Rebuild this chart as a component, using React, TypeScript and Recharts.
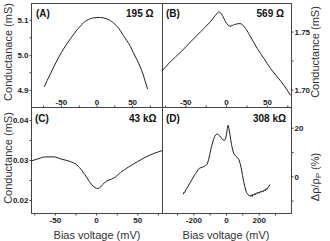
import React from 'react';
import { LineChart, Line, XAxis, YAxis, ReferenceArea } from 'recharts';

// (A) 195 ohm junction
const aBias = [-74, -70, -65, -60, -56, -50, -47, -42, -37, -32, -28, -23, -19, -14, -9, -5, 0, 5, 9, 14, 19, 24, 28, 33, 37, 42, 47, 51, 56, 61, 65, 68, 71];
const aCond = [4.91, 4.928, 4.949, 4.97, 4.986, 5.008, 5.018, 5.034, 5.048, 5.062, 5.073, 5.084, 5.093, 5.1, 5.105, 5.107, 5.108, 5.108, 5.107, 5.104, 5.099, 5.091, 5.083, 5.07, 5.057, 5.042, 5.025, 5.008, 4.988, 4.966, 4.944, 4.924, 4.904];

// (B) 569 ohm junction
const bBias = [-79, -69, -56, -44, -32, -20, -13.5, -9.4, -5.3, -1.2, 4.1, 9.8, 16.3, 23.3, 29.4, 37.6, 45.8, 53.9, 62.1, 70.2, 78.4];
const bCond = [1.7165, 1.7243, 1.7329, 1.7416, 1.7502, 1.7588, 1.7645, 1.7674, 1.7645, 1.7588, 1.755, 1.7565, 1.7573, 1.753, 1.7459, 1.7358, 1.7272, 1.7185, 1.7114, 1.7041, 1.6955];

// (C) 43 kohm junction
const cBias = [-79, -70, -62, -52, -42, -32, -24, -17.5, -11.4, -6.5, -2, 1.6, 4.9, 9.8, 15, 21, 29, 39, 50, 60, 70, 80];
const cCond = [0.0299, 0.0305, 0.0309, 0.0309, 0.0303, 0.02975, 0.0289, 0.0274, 0.0256, 0.0241, 0.02325, 0.023, 0.0234, 0.0245, 0.0251, 0.0256, 0.027, 0.0284, 0.02975, 0.0309, 0.0318, 0.0325];

// (D) 308 kohm junction, magnetoresistance
const dBias = [-265, -260, -255, -248, -241, -225, -210, -195, -184, -172, -163, -150, -139, -128, -118, -110, -102, -95, -88, -80, -73, -64, -57, -49, -41, -30, -20, -12, -6, 0, 5, 10, 14, 20, 26, 31, 38, 45, 55, 65, 75, 83, 90, 98, 106, 114, 122, 130, 138, 147, 152, 157, 162, 167, 172, 177, 182, 188, 194, 200, 206, 212, 218, 224, 230, 236, 242, 248, 254, 260, 265];
const dMr = [-7.2, -6.3, -6.4, -5.2, -4.6, -2.6, -1.0, 0.8, 1.8, 3.2, 3.6, 3.9, 4.2, 4.6, 5.2, 7.0, 9.3, 11.5, 13.4, 15.2, 16.5, 17.4, 17.6, 17.3, 16.8, 15.8, 15.1, 15.0, 15.6, 17.5, 19.8, 21.2, 20.0, 17.8, 15.2, 13.2, 11.0, 9.6, 8.6, 8.0, 7.2, 5.6, 3.6, 0.6, -2.3, -4.6, -6.4, -7.2, -7.6, -8.0, -7.4, -8.1, -7.2, -7.6, -6.9, -7.4, -6.6, -7.0, -6.3, -6.8, -6.0, -6.4, -5.8, -6.2, -5.4, -5.8, -4.9, -5.2, -4.3, -4.0, -3.2];

const mvTicks = [-75, -50, -25, 0, 25, 50, 75];
const dTicks = [-300, -200, -100, 0, 100, 200, 300];
const aYTicks = [4.9, 4.95, 5.0, 5.05, 5.1];
const bYTicks = [1.7, 1.725, 1.75];
const cYTicks = [0.02, 0.025, 0.03, 0.035, 0.04];
const dYTicks = [-10, 0, 10, 20];

const zip = (xs: number[], ys: number[]) => xs.map((v, i) => ({ v, y: ys[i] }));

const FONT = '"Liberation Sans", Arial, sans-serif';
const tickStyle = { fontSize: 8, fontWeight: 700, fill: '#222', fontFamily: FONT };
const AX = '#444';
const YW = 28; // y axis width
const XH = 16; // x axis height

const onStep = (step: number) => (v: number) => Math.abs(v / step - Math.round(v / step)) < 1e-6;

type PanelProps = {
  data: { v: number; y: number }[];
  margin: { top: number; left: number; right: number; bottom: number };
  xDomain: [number, number];
  yDomain: [number, number];
  xTicks: number[];
  yTicks: number[];
  xMajor: (v: number) => boolean;
  yMajor: (v: number) => boolean;
  yDigits: number;
  yRight?: boolean;
  xInside?: boolean;
  curve?: 'monotone' | 'linear';
};

const Panel = (p: PanelProps) => (
  <div style={{ position: 'absolute', left: 0, top: 0 }}>
    <LineChart width={330} height={241} data={p.data} margin={p.margin}>
      <XAxis
        dataKey="v"
        type="number"
        domain={p.xDomain}
        allowDataOverflow
        ticks={p.xTicks}
        interval={0}
        height={XH}
        mirror={p.xInside}
        tickSize={2}
        tickMargin={p.xInside ? 1 : 2}
        tick={tickStyle}
        tickFormatter={(v: number) => (p.xMajor(v) ? String(v) : '')}
        axisLine={{ stroke: AX }}
        tickLine={{ stroke: AX }}
      />
      <YAxis
        type="number"
        orientation={p.yRight ? 'right' : 'left'}
        domain={p.yDomain}
        allowDataOverflow
        ticks={p.yTicks}
        interval={0}
        width={YW}
        tickSize={2}
        tickMargin={1}
        tick={tickStyle}
        tickFormatter={(v: number) => (p.yMajor(v) ? v.toFixed(p.yDigits) : '')}
        axisLine={{ stroke: AX }}
        tickLine={{ stroke: AX }}
      />
      <ReferenceArea
        x1={p.xDomain[0]}
        x2={p.xDomain[1]}
        y1={p.yDomain[0]}
        y2={p.yDomain[1]}
        fill="none"
        stroke={AX}
        strokeWidth={1}
        ifOverflow="visible"
      />
      <Line
        dataKey="y"
        type={p.curve || 'monotone'}
        stroke="#222"
        strokeWidth={1}
        dot={false}
        isAnimationActive={false}
      />
    </LineChart>
  </div>
);

const label = { fontFamily: FONT, fontSize: 10, fontWeight: 700, fill: '#111' };
const title = { fontFamily: FONT, fontSize: 11, fill: '#333' };

export default function App() {
  return (
    <div style={{ position: 'absolute', left: 0, top: 0, width: 330, height: 241, background: '#fff' }}>
      <Panel
        data={zip(aBias, aCond)}
        margin={{ top: 3.5, left: 31.5 - YW, right: 167.5, bottom: 133.5 }}
        xDomain={[-92, 92]}
        yDomain={[4.851, 5.148]}
        xTicks={mvTicks}
        yTicks={aYTicks}
        xMajor={onStep(50)}
        yMajor={onStep(0.1)}
        yDigits={1}
        xInside
      />
      <Panel
        data={zip(bBias, bCond)}
        margin={{ top: 3.5, left: 162.5, right: 38.5 - YW, bottom: 133.5 }}
        xDomain={[-78.5, 79.5]}
        yDomain={[1.685, 1.7746]}
        xTicks={mvTicks}
        yTicks={bYTicks}
        xMajor={onStep(50)}
        yMajor={onStep(0.05)}
        yDigits={2}
        yRight
        xInside
      />
      <Panel
        data={zip(cBias, cCond)}
        margin={{ top: 107.5, left: 31.5 - YW, right: 167.5, bottom: 27.5 - XH }}
        xDomain={[-79, 80]}
        yDomain={[0.01675, 0.04325]}
        xTicks={mvTicks}
        yTicks={cYTicks}
        xMajor={onStep(50)}
        yMajor={onStep(0.01)}
        yDigits={2}
      />
      <Panel
        data={zip(dBias, dMr)}
        margin={{ top: 107.5, left: 162.5, right: 38.5 - YW, bottom: 27.5 - XH }}
        xDomain={[-392, 398]}
        yDomain={[-15.1, 28.5]}
        xTicks={dTicks}
        yTicks={dYTicks}
        xMajor={onStep(200)}
        yMajor={onStep(20)}
        yDigits={0}
        yRight
        curve="linear"
      />
      <svg width={330} height={241} style={{ position: 'absolute', left: 0, top: 0 }}>
        <text x={36} y={17} style={label}>(A)</text>
        <text x={153.5} y={17} textAnchor="end" style={label}>195 Ω</text>
        <text x={166} y={17} style={label}>(B)</text>
        <text x={284} y={17} textAnchor="end" style={label}>569 Ω</text>
        <text x={35} y={122} style={label}>(C)</text>
        <text x={156.5} y={122} textAnchor="end" style={label}>43 kΩ</text>
        <text x={166} y={122} style={label}>(D)</text>
        <text x={286} y={122} textAnchor="end" style={label}>308 kΩ</text>

        <text x={11.5} y={52} textAnchor="middle" transform="rotate(-90 11.5 52)" style={title}>Conductanace (mS)</text>
        <text x={11.5} y={158} textAnchor="middle" transform="rotate(-90 11.5 158)" style={title}>Conductance (mS)</text>
        <text x={319} y={52} textAnchor="middle" transform="rotate(-90 319 52)" style={title}>Conductance (mS)</text>
        <text x={319} y={177} textAnchor="middle" transform="rotate(-90 319 177)" style={title}>
          Δρ/ρ<tspan dy={2} fontSize={8}>P</tspan><tspan dy={-2}> (%)</tspan>
        </text>
        <text x={97} y={239} textAnchor="middle" style={title}>Bias voltage (mV)</text>
        <text x={226} y={239} textAnchor="middle" style={title}>Bias voltage (mV)</text>
      </svg>
    </div>
  );
}
